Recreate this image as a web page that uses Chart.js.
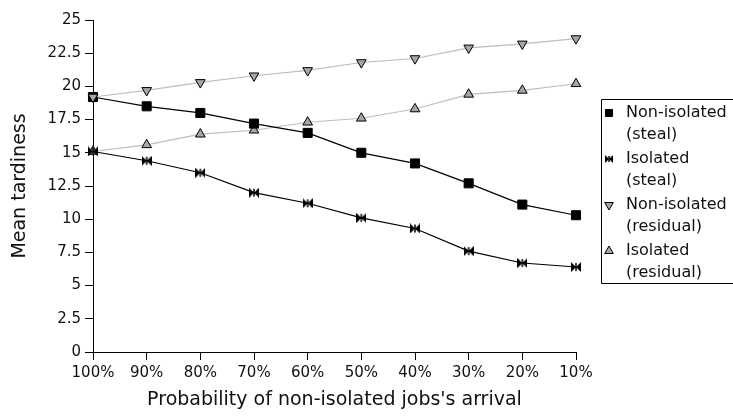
<!DOCTYPE html>
<html>
<head>
<meta charset="utf-8">
<script src="https://cdn.jsdelivr.net/npm/chart.js@4/dist/chart.umd.min.js"></script>
<style>
  html, body { margin: 0; padding: 0; background: #fff; }
  #chart { display: block; }
</style>
</head>
<body>
<canvas id="chart" width="733" height="417"></canvas>
<script>
// ── data ──

const categories = ["100%", "90%", "80%", "70%", "60%", "50%", "40%", "30%", "20%", "10%"];

const nonIsolatedSteal = [19.2, 18.5, 18.0, 17.2, 16.5, 15.0, 14.2, 12.7, 11.1, 10.3];
const isolatedSteal = [15.1, 14.4, 13.5, 12.0, 11.2, 10.1, 9.3, 7.6, 6.7, 6.4];
const nonIsolatedResidual = [19.2, 19.7, 20.3, 20.8, 21.2, 21.8, 22.1, 22.9, 23.2, 23.6];
const isolatedResidual = [15.1, 15.6, 16.4, 16.7, 17.3, 17.6, 18.3, 19.4, 19.7, 20.2];

const seriesNames = [
  ["Non-isolated", "(steal)"],
  ["Isolated", "(steal)"],
  ["Non-isolated", "(residual)"],
  ["Isolated", "(residual)"],
];

const yTitle = "Mean tardiness";
const xTitle = "Probability of non-isolated jobs's arrival";

// ── marker shapes ──

const FONT = "'DejaVu Sans', sans-serif";

// bowtie marker: two triangles meeting in the middle
function makeBowtie(size) {
  const c = document.createElement("canvas");
  c.width = size;
  c.height = size;
  const g = c.getContext("2d");
  g.fillStyle = "#000";
  g.beginPath();
  g.moveTo(0, 0);
  g.lineTo(size / 2, size / 2);
  g.lineTo(0, size);
  g.closePath();
  g.moveTo(size, 0);
  g.lineTo(size / 2, size / 2);
  g.lineTo(size, size);
  g.closePath();
  g.fill();
  g.fillRect(size / 2 - 0.75, 1, 1.5, size - 2);
  return c;
}
const bowtie = makeBowtie(10);
const bowtieSmall = makeBowtie(8);

const GREY_LINE = "#bdbdbd";
const GREY_FILL = "#a6a6a6";

// ── legend box drawn on the canvas ──

const sideLegend = {
  id: "sideLegend",
  afterDraw(chart) {
    const ctx = chart.ctx;
    const boxX = 601.5, boxY = 99.5, boxB = 283.5;
    ctx.save();
    ctx.strokeStyle = "#000";
    ctx.lineWidth = 1;
    ctx.beginPath();
    ctx.moveTo(740, boxY);
    ctx.lineTo(boxX, boxY);
    ctx.lineTo(boxX, boxB);
    ctx.lineTo(740, boxB);
    ctx.stroke();

    ctx.font = "16px " + FONT;
    ctx.textBaseline = "middle";
    chart.data.datasets.forEach((ds, i) => {
      const y = 113 + i * 46;
      const st = {
        pointStyle: ds.pointStyle === bowtie ? bowtieSmall : ds.pointStyle,
        radius: 5,
        rotation: ds.pointRotation || 0,
        borderWidth: 1,
      };
      ctx.fillStyle = ds.pointBackgroundColor;
      ctx.strokeStyle = ds.pointBorderColor;
      ctx.lineWidth = 1;
      Chart.helpers.drawPoint(ctx, st, 609, y);
      ctx.fillStyle = "#111";
      seriesNames[i].forEach((line, k) => ctx.fillText(line, 626, y + k * 22));
    });
    ctx.restore();
  },
};

// ── chart ──

new Chart(document.getElementById("chart"), {
  type: "line",
  data: {
    labels: categories,
    datasets: [
      {
        label: seriesNames[0].join(" "),
        data: nonIsolatedSteal,
        borderColor: "#000",
        borderWidth: 1.2,
        pointStyle: "rect",
        pointRadius: 6.4,
        pointBackgroundColor: "#000",
        pointBorderColor: "#000",
        pointBorderWidth: 1,
        order: 2,
      },
      {
        label: seriesNames[1].join(" "),
        data: isolatedSteal,
        borderColor: "#000",
        borderWidth: 1.2,
        pointStyle: bowtie,
        pointRadius: 5,
        pointBackgroundColor: "#000",
        pointBorderColor: "#000",
        order: 3,
      },
      {
        label: seriesNames[2].join(" "),
        data: nonIsolatedResidual,
        borderColor: GREY_LINE,
        borderWidth: 1.2,
        pointStyle: "triangle",
        pointRotation: 180,
        pointRadius: 5.6,
        pointBackgroundColor: GREY_FILL,
        pointBorderColor: "#000",
        pointBorderWidth: 1,
        order: 1,
      },
      {
        label: seriesNames[3].join(" "),
        data: isolatedResidual,
        borderColor: GREY_LINE,
        borderWidth: 1.2,
        pointStyle: "triangle",
        pointRadius: 5.6,
        pointBackgroundColor: GREY_FILL,
        pointBorderColor: "#000",
        pointBorderWidth: 1,
        order: 4,
      },
    ],
  },
  options: {
    responsive: false,
    animation: false,
    devicePixelRatio: 1,
    layout: { padding: { top: 20, right: 157, left: 0, bottom: 0 } },
    plugins: {
      legend: { display: false },
      tooltip: { enabled: false },
    },
    scales: {
      x: {
        offset: false,
        grid: {
          offset: false,
          drawOnChartArea: false,
          drawTicks: true,
          tickLength: 8,
          color: "#000",
        },
        border: { display: true, color: "#000", width: 1 },
        ticks: {
          color: "#111",
          font: { family: FONT, size: 15 },
          padding: 4,
          maxRotation: 0,
          autoSkip: false,
        },
        title: {
          display: true,
          text: xTitle,
          color: "#111",
          font: { family: FONT, size: 19 },
          padding: { top: 6, bottom: 6 },
        },
        afterFit(scale) { scale.height = 65; },
      },
      y: {
        min: 0,
        max: 25,
        grid: {
          drawOnChartArea: false,
          drawTicks: true,
          tickLength: 8,
          color: "#000",
        },
        border: { display: true, color: "#000", width: 1 },
        ticks: {
          stepSize: 2.5,
          color: "#111",
          font: { family: FONT, size: 15 },
          padding: 4,
        },
        title: {
          display: true,
          text: yTitle,
          color: "#111",
          font: { family: FONT, size: 19 },
          padding: { top: 9, bottom: 6 },
        },
        afterFit(scale) { scale.width = 93; },
      },
    },
  },
  plugins: [sideLegend],
});
</script>
</body>
</html>
